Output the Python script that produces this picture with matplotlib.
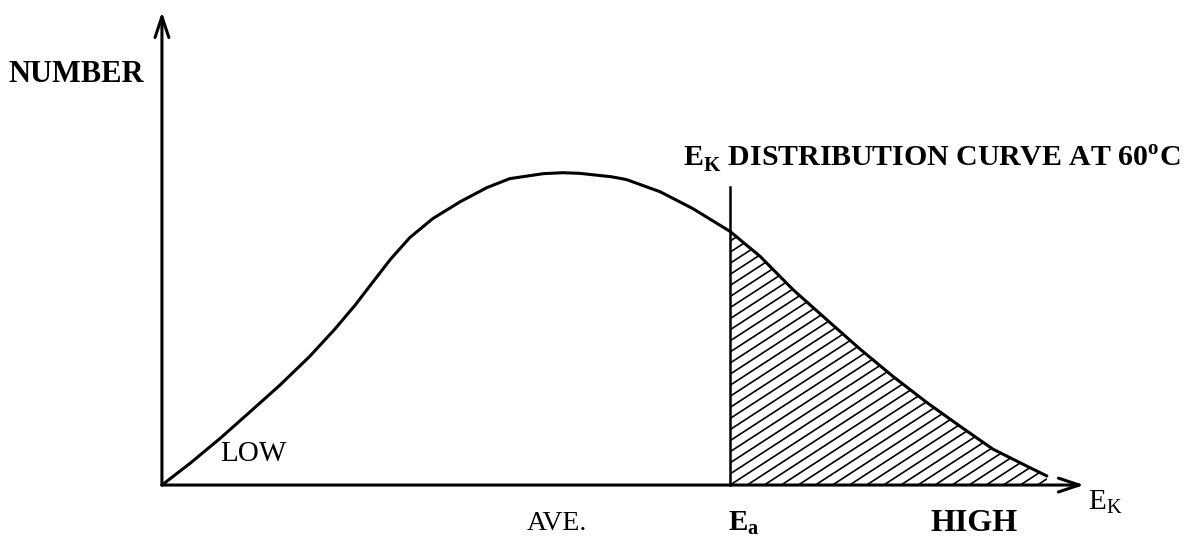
import numpy as np
import matplotlib
matplotlib.use("Agg")
import matplotlib.pyplot as plt

plt.rcParams['font.family'] = ['Liberation Serif', 'DejaVu Serif']
plt.rcParams['mathtext.fontset'] = 'custom'
plt.rcParams['mathtext.rm'] = 'Liberation Serif'
plt.rcParams['mathtext.bf'] = 'Liberation Serif:bold'

# kinetic energy (arbitrary units) and number of molecules
energy = [0.0, 3.2, 6.6, 9.9, 13.3, 16.7, 19.5, 21.8, 23.7, 25.8, 28.0, 30.6,
          33.7, 36.7, 39.3, 43.1, 45.3, 47.2, 50.8, 52.5, 56.3, 60.0, 64.2,
          67.6, 71.3, 75.1, 78.9, 82.6, 86.4, 90.2, 93.9, 97.7, 100.0]
number = [0.0, 7.0, 15.0, 23.3, 31.9, 41.2, 49.8, 57.5, 64.5, 72.2, 79.2, 85.3,
          90.7, 95.2, 98.1, 99.7, 100.0, 99.8, 98.7, 97.8, 93.9, 88.5, 81.2,
          73.2, 62.6, 53.0, 43.5, 34.8, 26.5, 18.8, 11.5, 6.1, 2.9]
e_activation = 64.2
ea_line_top = 95.5

energy = np.array(energy)
number = np.array(number)

fig = plt.figure(figsize=(11.92, 5.5), dpi=100)
ax = fig.add_axes([0, 0, 1, 1])
ax.set_xlim(-18.3, 116.4)
ax.set_ylim(-20.8, 155.3)
ax.axis('off')

lw = 2.2
arrow = dict(arrowstyle='->,head_length=1.5,head_width=0.5', lw=lw, color='black',
             shrinkA=0, shrinkB=0)
ax.annotate('', xy=(0, 151.5), xytext=(0, 0), arrowprops=arrow)
ax.annotate('', xy=(104.2, 0), xytext=(0, 0), arrowprops=arrow)

ax.plot(energy, number, color='black', lw=lw, solid_capstyle='round', solid_joinstyle='round')

# shaded tail beyond the activation energy
mask = energy >= e_activation
xs = np.concatenate([[e_activation], energy[mask]])
ys = np.interp(xs, energy, number)
clip = plt.Polygon(np.column_stack([np.r_[xs, xs[::-1]], np.r_[ys, np.zeros_like(ys)]]),
                   closed=True, transform=ax.transData, fill=False, lw=0)
ax.add_patch(clip)
slope = 1.84
gap = 3.55
hx = np.array([e_activation - 5, 105])
for k in range(-30, 40):
    hl, = ax.plot(hx, slope * (hx - e_activation) + k * gap, color='black', lw=1.2)
    hl.set_clip_path(clip)

ax.plot([e_activation, e_activation], [0, ea_line_top], color='black', lw=1.8)

fs = 21
ax.text(-17.4, 131.4, 'NUMBER', fontsize=22, fontweight='bold', ha='left', va='center')
ax.text(58.9, 104.5, r'$\mathbf{E}_\mathbf{K}$ DISTRIBUTION CURVE AT 60$^\mathbf{o}$C',
        fontsize=21.5, fontweight='bold', ha='left', va='center')
ax.text(6.6, 10.0, 'LOW', fontsize=fs, ha='left', va='center')
ax.text(41.2, -12.2, 'AVE.', fontsize=20, ha='left', va='center')
ax.text(64.0, -12.3, r'$\mathbf{E}_\mathbf{a}$', fontsize=fs, ha='left', va='center')
ax.text(86.8, -12.3, 'HIGH', fontsize=23, fontweight='bold', ha='left', va='center')
ax.text(104.6, -5.5, r'$\mathrm{E}_\mathrm{K}$', fontsize=fs, ha='left', va='center')

plt.savefig('out.png', dpi=100)
